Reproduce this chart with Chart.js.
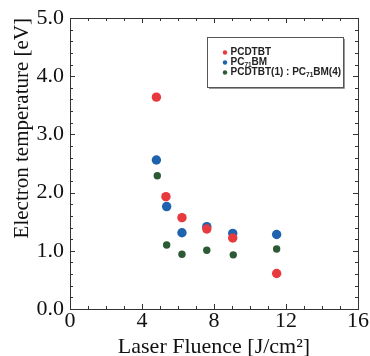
<!DOCTYPE html>
<html>
<head>
<meta charset="utf-8">
<script src="https://cdn.jsdelivr.net/npm/chart.js@4.4.1/dist/chart.umd.min.js"></script>
<style>
html, body { margin: 0; padding: 0; background: #fff; }
</style>
</head>
<body>
<canvas id="grafico" width="370" height="356"></canvas>
<script>
// dados
const nomesSeries = ["PCDTBT", "PC{71}BM", "PCDTBT(1) : PC{71}BM(4)"];
const coresSeries = ["#e8393f", "#1f62ad", "#2b5a35"];
const raiosSeries = [4.7, 4.7, 3.7];

const fluenciaVermelho = [4.8, 5.33, 6.22, 7.6, 9.04, 11.48];
const tempVermelho = [3.64, 1.93, 1.57, 1.375, 1.22, 0.61];

const fluenciaAzul = [4.8, 5.37, 6.22, 7.6, 9.04, 11.48];
const tempAzul = [2.56, 1.76, 1.31, 1.415, 1.30, 1.28];

const fluenciaVerde = [4.85, 5.37, 6.22, 7.6, 9.07, 11.48];
const tempVerde = [2.29, 1.10, 0.94, 1.01, 0.93, 1.03];

const xMin = 0, xMax = 16, xPasso = 4, xMenor = 1;
const yMin = 0, yMax = 5, yPasso = 1, yMenor = 0.2;

const tituloX = "Laser Fluence [J/cm\u00B2]";
const tituloY = "Electron temperature [eV]";

function pontos(xs, ys) {
    return xs.map((x, i) => ({ x: x, y: ys[i] }));
}

const conjuntos = [
    pontos(fluenciaVermelho, tempVermelho),
    pontos(fluenciaAzul, tempAzul),
    pontos(fluenciaVerde, tempVerde)
].map((dados, i) => ({
    label: nomesSeries[i],
    data: dados,
    backgroundColor: coresSeries[i],
    borderWidth: 0,
    pointRadius: raiosSeries[i],
    pointHoverRadius: raiosSeries[i]
}));

// escreve texto com subscrito marcado por {..}
function textoComSubscrito(ctx, texto, x, y, tam) {
    const partes = texto.split(/(\{[^}]*\})/);
    partes.forEach(p => {
        if (!p) return;
        if (p[0] === "{") {
            const s = p.slice(1, -1);
            ctx.font = "bold " + (tam * 0.65) + "px 'Liberation Sans', Arial, sans-serif";
            ctx.fillText(s, x, y + tam * 0.3);
            x += ctx.measureText(s).width;
        } else {
            ctx.font = "bold " + tam + "px 'Liberation Sans', Arial, sans-serif";
            ctx.fillText(p, x, y);
            x += ctx.measureText(p).width;
        }
    });
}

const moldura = {
    id: "moldura",
    afterDraw(chart) {
        const ctx = chart.ctx;
        const a = chart.chartArea;
        const sx = chart.scales.x;
        const sy = chart.scales.y;
        ctx.save();
        ctx.strokeStyle = "#333";
        ctx.lineWidth = 1;
        ctx.strokeRect(Math.round(a.left) + 0.5, Math.round(a.top) + 0.5,
            Math.round(a.right - a.left), Math.round(a.bottom - a.top));

        ctx.beginPath();
        for (let v = xMin; v <= xMax + 1e-9; v += xMenor) {
            const px = Math.round(sx.getPixelForValue(v)) + 0.5;
            const t = Math.abs(v % xPasso) < 1e-6 ? 5 : 3;
            ctx.moveTo(px, a.bottom); ctx.lineTo(px, a.bottom - t);
            ctx.moveTo(px, a.top); ctx.lineTo(px, a.top + t);
        }
        for (let v = yMin; v <= yMax + 1e-9; v += yMenor) {
            const py = Math.round(sy.getPixelForValue(v)) + 0.5;
            const r = Math.round(v / yMenor);
            const t = r % 5 === 0 ? 5 : 3;
            ctx.moveTo(a.left, py); ctx.lineTo(a.left + t, py);
            ctx.moveTo(a.right, py); ctx.lineTo(a.right - t, py);
        }
        ctx.stroke();

        // legenda
        const lx = 207, ly = 37, lw = 136, lh = 50;
        ctx.fillStyle = "#fff";
        ctx.fillRect(lx, ly, lw, lh);
        ctx.strokeStyle = "#555";
        ctx.strokeRect(lx + 0.5, ly + 0.5, lw, lh);
        ctx.strokeStyle = "#999";
        ctx.beginPath();
        ctx.moveTo(lx + 2, ly + lh + 1.5); ctx.lineTo(lx + lw + 1.5, ly + lh + 1.5);
        ctx.lineTo(lx + lw + 1.5, ly + 2);
        ctx.stroke();

        ctx.textBaseline = "middle";
        ctx.textAlign = "left";
        nomesSeries.forEach((nome, i) => {
            const yy = 52.5 + i * 10;
            ctx.fillStyle = coresSeries[i];
            ctx.beginPath();
            ctx.arc(225, yy, 2.2, 0, Math.PI * 2);
            ctx.fill();
            ctx.fillStyle = "#222";
            textoComSubscrito(ctx, nome, 230.5, yy, 10);
        });
        ctx.restore();
    }
};

const fonteSerif = "'Liberation Serif', 'Times New Roman', serif";

new Chart(document.getElementById("grafico"), {
    type: "scatter",
    data: { datasets: conjuntos },
    options: {
        responsive: false,
        animation: false,
        devicePixelRatio: 1,
        layout: { padding: { top: 18, right: 11, bottom: 0, left: 0 } },
        plugins: {
            legend: { display: false },
            tooltip: { enabled: false }
        },
        scales: {
            x: {
                type: "linear",
                min: xMin,
                max: xMax,
                border: { display: false },
                grid: { display: false, drawTicks: false },
                ticks: {
                    stepSize: xPasso,
                    padding: 1,
                    color: "#111",
                    font: { family: fonteSerif, size: 22, lineHeight: 1 },
                    callback: v => String(v)
                },
                title: {
                    display: true,
                    text: tituloX,
                    color: "#111",
                    padding: { top: 0, bottom: 0 },
                    font: { family: fonteSerif, size: 22, lineHeight: 0.8 }
                },
                afterFit(scale) { scale.height = 47; }
            },
            y: {
                type: "linear",
                min: yMin,
                max: yMax,
                border: { display: false },
                grid: { display: false, drawTicks: false },
                ticks: {
                    stepSize: yPasso,
                    padding: 6,
                    color: "#111",
                    font: { family: fonteSerif, size: 22, lineHeight: 1 },
                    callback: v => v.toFixed(1)
                },
                title: {
                    display: true,
                    text: tituloY,
                    align: "end",
                    color: "#111",
                    padding: { top: 10, bottom: 0 },
                    font: { family: fonteSerif, size: 21, lineHeight: 1.2 }
                },
                afterFit(scale) { scale.width = 70; }
            }
        }
    },
    plugins: [moldura]
});
</script>
</body>
</html>
